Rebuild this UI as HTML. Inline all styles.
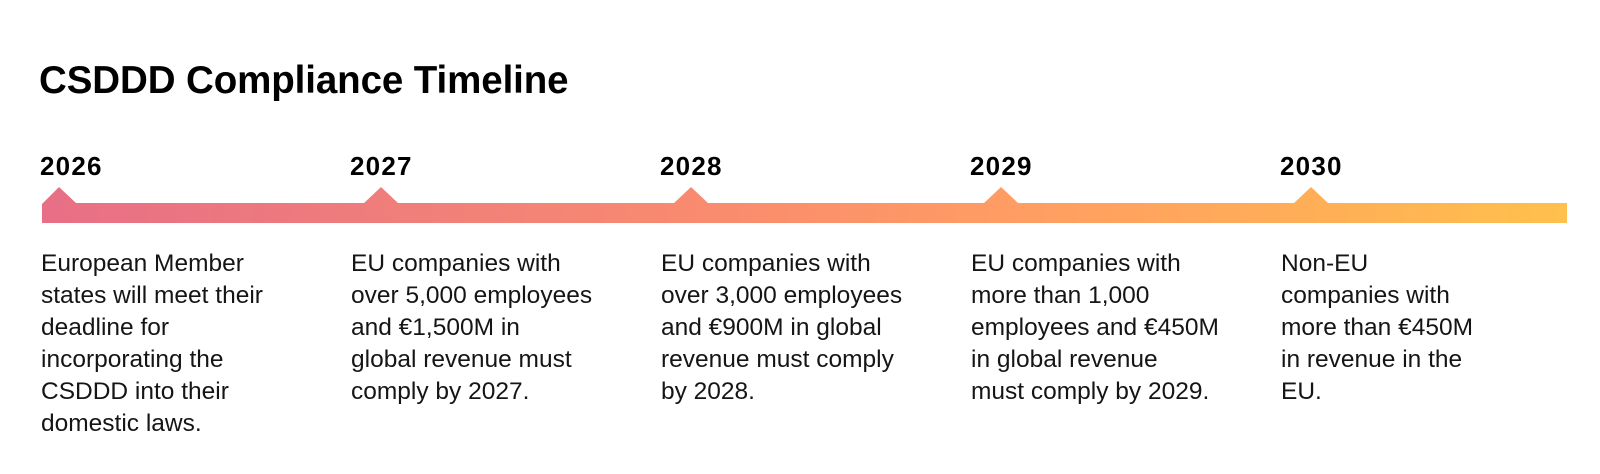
<!DOCTYPE html>
<html>
<head>
<meta charset="utf-8">
<style>
  html, body { margin:0; padding:0; }
  body { width:1600px; height:474px; background:#fff; position:relative; overflow:hidden; font-family:"Liberation Sans", Arial, sans-serif; }
  .title { position:absolute; left:39px; top:59px; font-size:38.5px; line-height:44px; font-weight:bold; color:#000; white-space:nowrap; letter-spacing:-0.1px; }
  .year { position:absolute; top:151px; font-size:26px; line-height:30px; font-weight:bold; color:#000; white-space:nowrap; letter-spacing:1.2px; }
  .desc { position:absolute; top:248px; font-size:24.5px; line-height:32px; color:#151515; white-space:nowrap; }
  svg { position:absolute; left:0; top:0; }
</style>
</head>
<body>
<div class="title">CSDDD Compliance Timeline</div>

<svg width="1600" height="474" viewBox="0 0 1600 474">
  <defs>
    <linearGradient id="g" x1="42" y1="0" x2="1567" y2="0" gradientUnits="userSpaceOnUse">
      <stop offset="0" stop-color="#E86F86"/>
      <stop offset="0.25" stop-color="#F07F7A"/>
      <stop offset="0.45" stop-color="#FA8C6E"/>
      <stop offset="0.65" stop-color="#FF9E62"/>
      <stop offset="0.85" stop-color="#FFB056"/>
      <stop offset="1" stop-color="#FFC04C"/>
    </linearGradient>
  </defs>
  <path fill="url(#g)" d="M42,223 L42,204 L59,187 L76,203 L364,203 L381,187 L398,203 L674,203 L691,187 L708,203 L984,203 L1001,187 L1018,203 L1294,203 L1311,187 L1328,203 L1567,203 L1567,223 Z"/>
</svg>

<div class="year" style="left:40px;">2026</div>
<div class="year" style="left:350px;">2027</div>
<div class="year" style="left:660px;">2028</div>
<div class="year" style="left:970px;">2029</div>
<div class="year" style="left:1280px;">2030</div>

<div class="desc" style="left:41px;">European Member<br>states will meet their<br>deadline for<br>incorporating the<br>CSDDD into their<br>domestic laws.</div>
<div class="desc" style="left:351px;">EU companies with<br>over 5,000 employees<br>and €1,500M in<br>global revenue must<br>comply by 2027.</div>
<div class="desc" style="left:661px;">EU companies with<br>over 3,000 employees<br>and €900M in global<br>revenue must comply<br>by 2028.</div>
<div class="desc" style="left:971px;">EU companies with<br>more than 1,000<br>employees and €450M<br>in global revenue<br>must comply by 2029.</div>
<div class="desc" style="left:1281px;">Non-EU<br>companies with<br>more than €450M<br>in revenue in the<br>EU.</div>
</body>
</html>
